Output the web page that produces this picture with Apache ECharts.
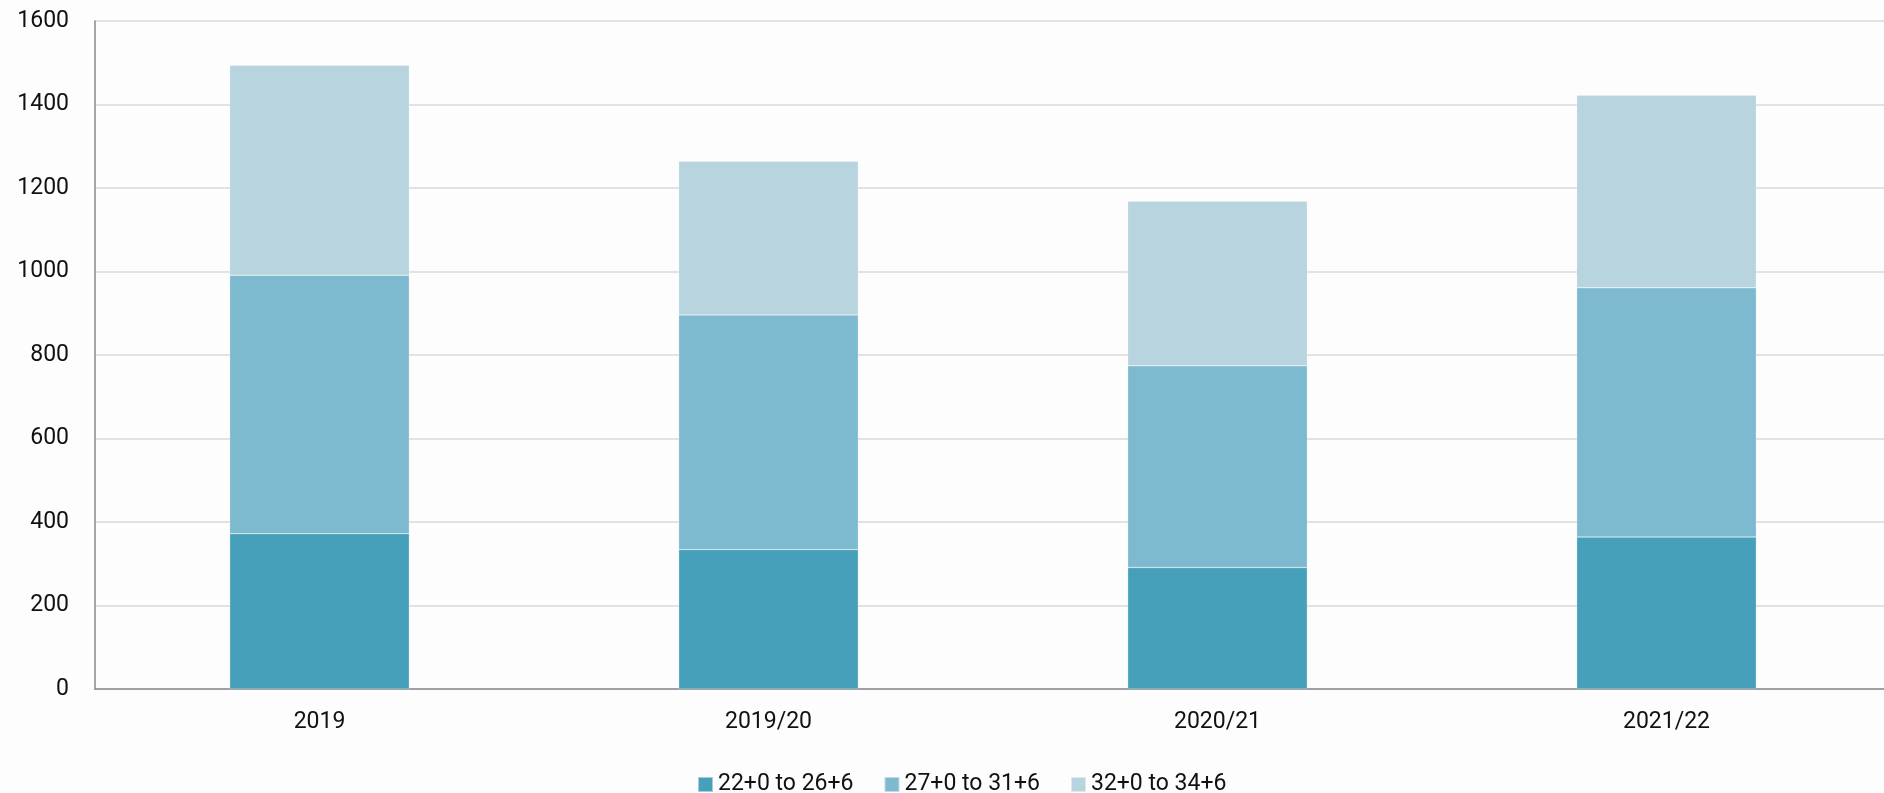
<!DOCTYPE html>
<html>
<head>
<meta charset="utf-8">
<script src="https://cdn.jsdelivr.net/npm/echarts@6/dist/echarts.min.js"></script>
<style>
html,body{margin:0;padding:0;background:#fdfdfd;overflow:hidden;}
#chart{width:1891px;height:793px;}
</style>
</head>
<body>
<div id="chart"></div>
<script>
const categories = ['2019', '2019/20', '2020/21', '2021/22'];
const seriesNames = ['22+0 to 26+6', '27+0 to 31+6', '32+0 to 34+6'];
const s1 = [372, 334, 291, 364];
const s2 = [619, 562, 483, 597];
const s3 = [503, 368, 394, 461];
const colors = ['#47a0b9', '#7db9cf', '#b7d4df'];

const chart = echarts.init(document.getElementById('chart'));
const font = 'Roboto, "Open Sans", sans-serif';
const data = [s1, s2, s3];
chart.setOption({
  backgroundColor: '#fdfdfd',
  animation: false,
  grid: { left: 95, right: 0, top: 21, bottom: 104, containLabel: false },
  legend: {
    left: 692, top: 768,
    itemWidth: 15, itemHeight: 15, itemGap: 30,
    icon: 'rect',
    textStyle: { fontFamily: font, fontSize: 23, color: '#111' },
    data: seriesNames
  },
  xAxis: {
    type: 'category',
    data: categories,
    axisLine: { lineStyle: { color: '#8a8a8a', width: 1.5 } },
    axisTick: { show: false },
    axisLabel: { fontFamily: font, fontSize: 23, color: '#111', margin: 22 }
  },
  yAxis: {
    type: 'value',
    min: 0, max: 1600, interval: 200,
    axisLine: { show: true, lineStyle: { color: '#8a8a8a', width: 1.5 } },
    axisTick: { show: false },
    axisLabel: { fontFamily: font, fontSize: 23, color: '#111', margin: 26, formatter: v => String(v) },
    splitLine: { lineStyle: { color: '#d9d9d9', width: 1.5 } }
  },
  series: seriesNames.map((n, i) => ({
    name: n,
    type: 'bar',
    stack: 'total',
    data: data[i],
    barWidth: '40%',
    itemStyle: { color: colors[i], borderColor: 'rgba(255,255,255,0.5)', borderWidth: 0.5 }
  }))
});
</script>
</body>
</html>
